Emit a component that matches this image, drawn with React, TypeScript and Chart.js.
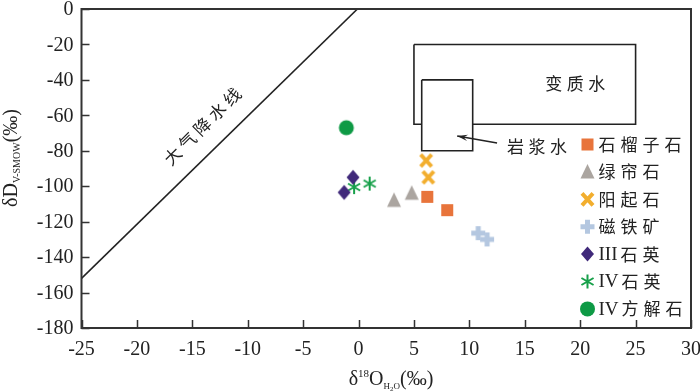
import React, { useEffect, useRef } from 'react';
import { Chart, registerables } from 'chart.js';

Chart.register(...registerables);

// ---- data ----
const seriesNames = ['石榴子石', '绿帘石', '阳起石', '磁铁矿', 'Ⅲ石英', 'Ⅳ石英', 'Ⅳ方解石'];
const seriesKinds = ['square', 'triangle', 'x', 'plus', 'diamond', 'asterisk', 'circle'];
const seriesColors = ['#E8743B', '#ABA5A0', '#F2AE2E', '#B4C7E0', '#40297A', '#17A04A', '#0E9A45'];

const garnetX = [6.2, 8.0];
const garnetY = [-106, -113.5];
const epidoteX = [3.2, 4.8];
const epidoteY = [-108, -104];
const actinoliteX = [6.1, 6.3];
const actinoliteY = [-85.5, -95];
const magnetiteX = [10.8, 11.6];
const magnetiteY = [-126.5, -130];
const quartz3X = [-0.5, -1.3];
const quartz3Y = [-95, -103.5];
const quartz4X = [-0.4, 1.0];
const quartz4Y = [-100.5, -98.5];
const calciteX = [-1.1];
const calciteY = [-67];

const seriesX = [garnetX, epidoteX, actinoliteX, magnetiteX, quartz3X, quartz4X, calciteX];
const seriesY = [garnetY, epidoteY, actinoliteY, magnetiteY, quartz3Y, quartz4Y, calciteY];

// meteoric water line
const mwlX = [-25, -0.1];
const mwlY = [-152, 0];
// metamorphic water box
const metaX = [5, 25, 25, 5, 5];
const metaY = [-20, -20, -65, -65, -20];
// magmatic water box
const magX = [5.7, 10.3, 10.3, 5.7, 5.7];
const magY = [-40, -40, -80, -80, -40];
// arrow (from label to magmatic box)
const arrowFrom = [12.5, -75.6];
const arrowTo = [8.9, -71.7];

const xTickValues = [-25, -20, -15, -10, -5, 0, 5, 10, 15, 20, 25, 30];
const yTickValues = [0, -20, -40, -60, -80, -100, -120, -140, -160, -180];

const labelMeta = { text: '变质水', x: 19.55, y: -42.2 };
const labelMag = { text: '岩浆水', x: 16.1, y: -77.5 };
const labelMwl = { text: '大气降水线', x: -14.1, y: -66.2 };

const SERIF = '"Liberation Serif", "DejaVu Serif", serif';
const CJK = '"Noto Sans CJK SC", "Noto Sans", sans-serif';
const TEXT = '#222';

function drawMarker(ctx: CanvasRenderingContext2D, kind: string, x: number, y: number, color: string) {
  ctx.save();
  ctx.fillStyle = color;
  ctx.strokeStyle = color;
  ctx.lineCap = 'butt';
  switch (kind) {
    case 'square':
      ctx.fillRect(x - 6, y - 6, 12, 12);
      break;
    case 'triangle':
      ctx.beginPath();
      ctx.moveTo(x, y - 8);
      ctx.lineTo(x + 7, y + 6.5);
      ctx.lineTo(x - 7, y + 6.5);
      ctx.closePath();
      ctx.fill();
      break;
    case 'x':
      ctx.lineWidth = 4;
      ctx.beginPath();
      ctx.moveTo(x - 5.5, y - 6);
      ctx.lineTo(x + 5.5, y + 6);
      ctx.moveTo(x + 5.5, y - 6);
      ctx.lineTo(x - 5.5, y + 6);
      ctx.stroke();
      break;
    case 'plus':
      ctx.lineWidth = 5;
      ctx.beginPath();
      ctx.moveTo(x - 7, y);
      ctx.lineTo(x + 7, y);
      ctx.moveTo(x, y - 7);
      ctx.lineTo(x, y + 7);
      ctx.stroke();
      break;
    case 'diamond':
      ctx.beginPath();
      ctx.moveTo(x, y - 7.5);
      ctx.lineTo(x + 6.5, y);
      ctx.lineTo(x, y + 7.5);
      ctx.lineTo(x - 6.5, y);
      ctx.closePath();
      ctx.fill();
      break;
    case 'asterisk': {
      ctx.lineWidth = 2;
      ctx.beginPath();
      const r = 7;
      [90, 30, 150].forEach((deg) => {
        const a = (deg * Math.PI) / 180;
        ctx.moveTo(x - r * Math.cos(a), y - r * Math.sin(a));
        ctx.lineTo(x + r * Math.cos(a), y + r * Math.sin(a));
      });
      ctx.stroke();
      break;
    }
    case 'circle':
      ctx.beginPath();
      ctx.arc(x, y, 7.5, 0, Math.PI * 2);
      ctx.fill();
      break;
  }
  ctx.restore();
}

function markerCanvas(kind: string, color: string) {
  const c = document.createElement('canvas');
  c.width = 24;
  c.height = 24;
  const ctx = c.getContext('2d')!;
  drawMarker(ctx, kind, 12, 12, color);
  return c;
}

function drawRich(
  ctx: CanvasRenderingContext2D,
  parts: { t: string; size: number; dy: number; font: string }[],
  cx: number,
  cy: number,
  rot: number
) {
  ctx.save();
  ctx.translate(cx, cy);
  ctx.rotate(rot);
  ctx.fillStyle = TEXT;
  ctx.textBaseline = 'alphabetic';
  ctx.textAlign = 'left';
  let total = 0;
  const widths = parts.map((p) => {
    ctx.font = `${p.size}px ${p.font}`;
    const w = ctx.measureText(p.t).width;
    total += w;
    return w;
  });
  let xx = -total / 2;
  parts.forEach((p, i) => {
    ctx.font = `${p.size}px ${p.font}`;
    ctx.fillText(p.t, xx, p.dy);
    xx += widths[i];
  });
  ctx.restore();
}

function drawSpaced(ctx: CanvasRenderingContext2D, text: string, x: number, y: number, adv: number) {
  let xx = x;
  for (const ch of text) {
    ctx.fillText(ch, xx, y);
    xx += adv;
  }
  return xx;
}

const decorPlugin = {
  id: 'decor',
  afterDatasetsDraw(chart: any) {
    const { ctx, chartArea } = chart;
    const xs = chart.scales.x;
    const ys = chart.scales.y;
    ctx.save();

    // frame
    ctx.strokeStyle = '#333';
    ctx.lineWidth = 2;
    ctx.strokeRect(chartArea.left, chartArea.top, chartArea.right - chartArea.left, chartArea.bottom - chartArea.top);

    // inside ticks
    ctx.lineWidth = 1.5;
    ctx.beginPath();
    xTickValues.forEach((v) => {
      const px = Math.round(xs.getPixelForValue(v)) + 0.5;
      ctx.moveTo(px, chartArea.bottom);
      ctx.lineTo(px, chartArea.bottom - 8);
    });
    yTickValues.forEach((v) => {
      const py = Math.round(ys.getPixelForValue(v)) + 0.5;
      ctx.moveTo(chartArea.left, py);
      ctx.lineTo(chartArea.left + 8, py);
    });
    ctx.stroke();

    // tick labels
    ctx.fillStyle = TEXT;
    ctx.font = `20px ${SERIF}`;
    ctx.textAlign = 'right';
    ctx.textBaseline = 'middle';
    yTickValues.forEach((v) => {
      const py = Math.max(ys.getPixelForValue(v) + 1, 9);
      ctx.fillText(String(v), chartArea.left - 8, py);
    });
    ctx.textAlign = 'center';
    ctx.textBaseline = 'top';
    xTickValues.forEach((v) => {
      const px = xs.getPixelForValue(v);
      ctx.fillText(String(v), px, chartArea.bottom + 12);
    });

    // arrow
    const ax0 = xs.getPixelForValue(arrowFrom[0]);
    const ay0 = ys.getPixelForValue(arrowFrom[1]);
    const ax1 = xs.getPixelForValue(arrowTo[0]);
    const ay1 = ys.getPixelForValue(arrowTo[1]);
    ctx.strokeStyle = '#222';
    ctx.fillStyle = '#222';
    ctx.lineWidth = 1.6;
    ctx.beginPath();
    ctx.moveTo(ax0, ay0);
    ctx.lineTo(ax1, ay1);
    ctx.stroke();
    const ang = Math.atan2(ay1 - ay0, ax1 - ax0);
    const hl = 11;
    ctx.beginPath();
    ctx.moveTo(ax1, ay1);
    ctx.lineTo(ax1 - hl * Math.cos(ang - 0.3), ay1 - hl * Math.sin(ang - 0.3));
    ctx.lineTo(ax1 - 0.6 * hl * Math.cos(ang), ay1 - 0.6 * hl * Math.sin(ang));
    ctx.lineTo(ax1 - hl * Math.cos(ang + 0.3), ay1 - hl * Math.sin(ang + 0.3));
    ctx.closePath();
    ctx.fill();

    // annotations
    ctx.fillStyle = TEXT;
    ctx.font = `17px ${CJK}`;
    ctx.textAlign = 'center';
    ctx.textBaseline = 'middle';
    const adv = 21.5;
    [labelMeta, labelMag].forEach((l) => {
      const cx = xs.getPixelForValue(l.x);
      const cy = ys.getPixelForValue(l.y);
      const n = [...l.text].length;
      let xx = cx - ((n - 1) * adv) / 2;
      for (const ch of l.text) {
        ctx.fillText(ch, xx, cy);
        xx += adv;
      }
    });
    {
      const cx = xs.getPixelForValue(labelMwl.x);
      const cy = ys.getPixelForValue(labelMwl.y);
      ctx.save();
      ctx.translate(cx, cy);
      ctx.rotate(-Math.PI / 4);
      const n = [...labelMwl.text].length;
      let xx = -((n - 1) * 21) / 2;
      for (const ch of labelMwl.text) {
        ctx.fillText(ch, xx, 0);
        xx += 21;
      }
      ctx.restore();
    }

    // legend
    const mx = chartArea.right - 103.5;
    const tx = mx + 11;
    seriesNames.forEach((name, i) => {
      const ly = 144.5 + i * 27.4;
      drawMarker(ctx, seriesKinds[i], mx, ly, seriesColors[i]);
      ctx.fillStyle = TEXT;
      ctx.textBaseline = 'middle';
      ctx.textAlign = 'left';
      let rest = name;
      let xx = tx;
      if (name[0] === 'Ⅲ' || name[0] === 'Ⅳ') {
        const roman = name[0] === 'Ⅲ' ? 'III' : 'IV';
        ctx.font = `19px ${SERIF}`;
        ctx.fillText(roman, xx, ly + 1);
        xx += ctx.measureText(roman).width + 3;
        rest = name.slice(1);
      }
      ctx.font = `17px ${CJK}`;
      drawSpaced(ctx, rest, xx, ly, 22);
    });

    // axis titles
    drawRich(
      ctx,
      [
        { t: 'δD', size: 20, dy: 0, font: SERIF },
        { t: 'V-SMOW', size: 10, dy: 3, font: SERIF },
        { t: '(‰)', size: 20, dy: 0, font: SERIF },
      ],
      17,
      158,
      -Math.PI / 2
    );
    drawRich(
      ctx,
      [
        { t: 'δ', size: 20, dy: 0, font: SERIF },
        { t: '18', size: 11, dy: -8, font: SERIF },
        { t: 'O', size: 20, dy: 0, font: SERIF },
        { t: 'H', size: 9, dy: 4, font: SERIF },
        { t: '2', size: 7, dy: 6, font: SERIF },
        { t: 'O', size: 9, dy: 4, font: SERIF },
        { t: '(‰)', size: 20, dy: 0, font: SERIF },
      ],
      391,
      385,
      0
    );
    ctx.restore();
  },
};

export default function App() {
  const ref = useRef<HTMLCanvasElement | null>(null);
  useEffect(() => {
    if (!ref.current) return;
    const markerSets = seriesNames.map((name, i) => ({
      label: name,
      type: 'scatter' as const,
      data: seriesX[i].map((x, j) => ({ x, y: seriesY[i][j] })),
      pointStyle: markerCanvas(seriesKinds[i], seriesColors[i]),
      pointRadius: 8,
      order: 0,
    }));
    const lineDs = (label: string, xs: number[], ys: number[], order: number, fill: any) => ({
      label,
      type: 'line' as const,
      data: xs.map((x, j) => ({ x, y: ys[j] })),
      showLine: true,
      borderColor: '#222',
      borderWidth: 1.6,
      pointRadius: 0,
      backgroundColor: '#ffffff',
      fill,
      tension: 0,
      order,
    });
    const chart = new Chart(ref.current, {
      type: 'scatter',
      data: {
        datasets: [
          ...markerSets,
          lineDs('岩浆水', magX, magY, 1, 'shape'),
          lineDs('变质水', metaX, metaY, 2, false),
          lineDs('大气降水线', mwlX, mwlY, 3, false),
        ] as any,
      },
      options: {
        animation: false,
        responsive: false,
        layout: { padding: { top: 4, right: 8.5, left: 0, bottom: 0 } },
        plugins: { legend: { display: false }, tooltip: { enabled: false } },
        scales: {
          x: {
            type: 'linear',
            min: -25,
            max: 30,
            ticks: { stepSize: 5, display: false },
            grid: { display: false, drawTicks: false },
            border: { display: false },
            afterFit: (s: any) => {
              s.height = 63;
              s.paddingLeft = 0;
              s.paddingRight = 0;
            },
          },
          y: {
            type: 'linear',
            min: -180,
            max: 0,
            ticks: { stepSize: 20, display: false },
            grid: { display: false, drawTicks: false },
            border: { display: false },
            afterFit: (s: any) => {
              s.width = 81.5;
              s.paddingTop = 0;
              s.paddingBottom = 0;
            },
          },
        },
      } as any,
      plugins: [decorPlugin],
    });
    return () => chart.destroy();
  }, []);
  return (
    <div style={{ position: 'absolute', left: 0, top: 0, width: 700, height: 391, background: '#fff' }}>
      <canvas ref={ref} width={700} height={391} style={{ display: 'block' }} />
    </div>
  );
}
